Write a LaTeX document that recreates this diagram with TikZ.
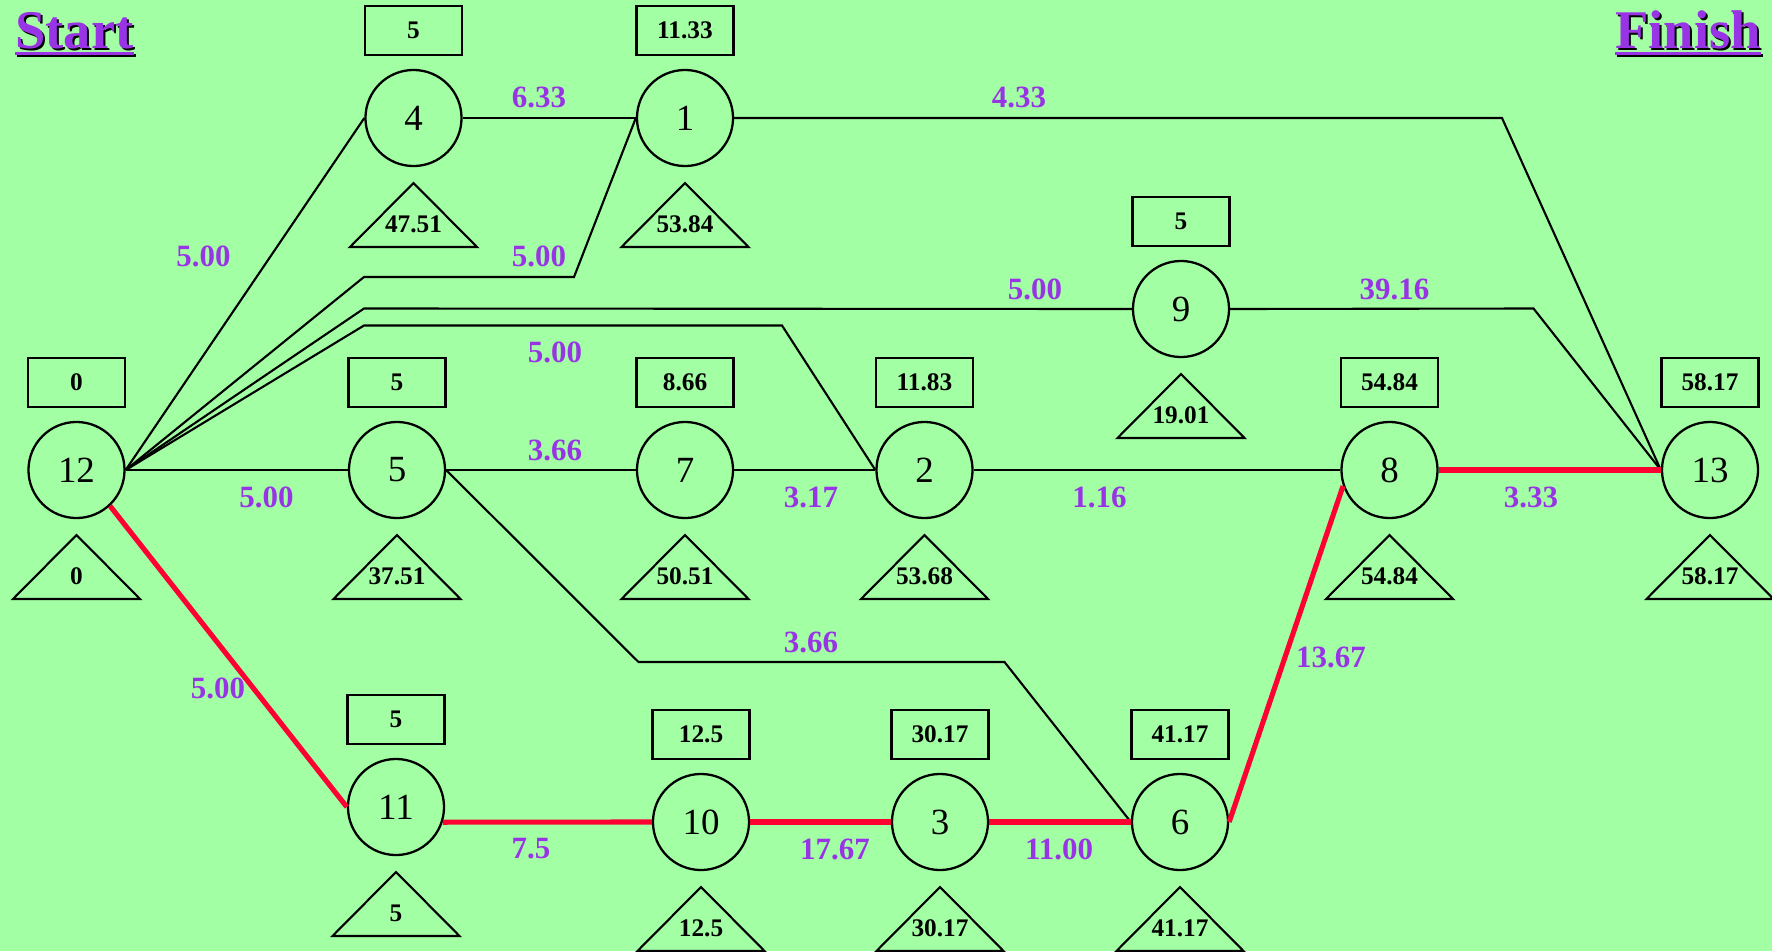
\documentclass[tikz,border=0pt]{standalone}
\usepackage{fontspec}
\setmainfont{Liberation Serif}
\definecolor{bg}{RGB}{163,255,163}
\definecolor{lblpurple}{RGB}{153,51,230}
\definecolor{crit}{RGB}{255,0,51}
\tikzset{
  evt/.style={circle, draw, line width=0.65pt, minimum size=0.96cm, inner sep=0pt,
              font=\fontsize{10.5}{12}\selectfont},
  esbox/.style={draw, line width=0.65pt, minimum width=0.97cm, minimum height=0.49cm,
                inner sep=0pt, font=\bfseries\fontsize{7.2}{8}\selectfont},
  lsnum/.style={inner sep=0pt, font=\bfseries\fontsize{7.2}{8}\selectfont},
  dur/.style={inner sep=0pt, text=lblpurple, font=\bfseries\fontsize{8.8}{10}\selectfont},
  act/.style={line width=0.6pt, black},
  critact/.style={line width=1.45pt, crit},
  titletxt/.style={inner sep=0pt, anchor=base, font=\bfseries\fontsize{15.5}{18}\selectfont}
}
% event: name, x, y, number, early start (box), late start (triangle)
\newcommand\pertevent[6]{%
  \node[evt] (#1) at (#2,#3) {#4};
  \node[esbox] (#1es) at (#2,#3-87.5) {#5};
  \draw[act] (#2,#3+65) -- (#2+63.5,#3+129) -- (#2-63.5,#3+129) -- cycle;
  \node[lsnum] (#1ls) at (#2,#3+106) {#6};
}
\begin{document}
\begin{tikzpicture}[x=0.01cm, y=-0.01cm]
\fill[bg] (0,0) rectangle (1772,951);
\useasboundingbox (0,0) rectangle (1772,951);

% titles with drop shadow
\node[titletxt, text=black] (startsh) at (76.5,50) {Start};
\fill[black] ([yshift=-1.0pt]startsh.base west) rectangle ([yshift=-2.1pt]startsh.base east);
\node[titletxt, text=lblpurple] (start) at (74.5,48) {Start};
\fill[lblpurple] ([yshift=-1.0pt]start.base west) rectangle ([yshift=-2.1pt]start.base east);
\node[titletxt, text=black] (finishsh) at (1690,50) {Finish};
\fill[black] ([yshift=-1.0pt]finishsh.base west) rectangle ([yshift=-2.1pt]finishsh.base east);
\node[titletxt, text=lblpurple] (finish) at (1688,48) {Finish};
\fill[lblpurple] ([yshift=-1.0pt]finish.base west) rectangle ([yshift=-2.1pt]finish.base east);

% events
\pertevent{n12}{76.5}{470}{12}{0}{0}
\pertevent{n4}{413.5}{118}{4}{5}{47.51}
\pertevent{n1}{685}{118}{1}{11.33}{53.84}
\pertevent{n9}{1181}{309}{9}{5}{19.01}
\pertevent{n5}{397}{470}{5}{5}{37.51}
\pertevent{n7}{685}{470}{7}{8.66}{50.51}
\pertevent{n2}{924.5}{470}{2}{11.83}{53.68}
\pertevent{n8}{1389.5}{470}{8}{54.84}{54.84}
\pertevent{n13}{1710}{470}{13}{58.17}{58.17}
\pertevent{n11}{396}{807}{11}{5}{5}
\pertevent{n10}{701}{822}{10}{12.5}{12.5}
\pertevent{n3}{940}{822}{3}{30.17}{30.17}
\pertevent{n6}{1180}{822}{6}{41.17}{41.17}

% bend points
\coordinate (k1a) at (364,277);
\coordinate (k1b) at (574,277);
\coordinate (k9a) at (364,308.5);
\coordinate (k2a) at (364,325.5);
\coordinate (k2b) at (782,325.5);
\coordinate (k13a) at (1502,118);
\coordinate (k13b) at (1533.5,308.5);
\coordinate (k6a) at (638.5,662);
\coordinate (k6b) at (1004.5,662);

% activities
\draw[act] (n12.east) -- (n4.west);
\draw[act] (n12.east) -- (k1a) -- (k1b) -- (n1.west);
\draw[act] (n12.east) -- (k9a) -- (n9.west);
\draw[act] (n12.east) -- (k2a) -- (k2b) -- (n2.west);
\draw[act] (n12.east) -- (n5.west);
\draw[act] (n4.east) -- (n1.west);
\draw[act] (n1.east) -- (k13a) -- (n13.west);
\draw[act] (n9.east) -- (k13b) -- (n13.west);
\draw[act] (n5.east) -- (n7.west);
\draw[act] (n5.east) -- (k6a) -- (k6b) -- (n6.west);
\draw[act] (n7.east) -- (n2.west);
\draw[act] (n2.east) -- (n8.west);

% critical path
\draw[critact] (n12.-47) -- (n11.west);
\draw[critact] (n11.-18) -- (n10.west);
\draw[critact] (n10.east) -- (n3.west);
\draw[critact] (n3.east) -- (n6.west);
\draw[critact] (n6.east) -- (n8.199);
\draw[critact] (n8.east) -- (n13.west);

% durations
\node[dur] (d124) at (203.5,256.5) {5.00};
\node[dur] (d121) at (539,256.5) {5.00};
\node[dur] (d129) at (1035,289) {5.00};
\node[dur] (d122) at (555,352.5) {5.00};
\node[dur] (d125) at (266.5,497) {5.00};
\node[dur] (d1211) at (218,688) {5.00};
\node[dur] (d41) at (539,97) {6.33};
\node[dur] (d113) at (1019,97) {4.33};
\node[dur] (d913) at (1394.5,289) {39.16};
\node[dur] (d57) at (555,450) {3.66};
\node[dur] (d56) at (811,642) {3.66};
\node[dur] (d72) at (811,497) {3.17};
\node[dur] (d28) at (1099.5,497) {1.16};
\node[dur] (d813) at (1531,497) {3.33};
\node[dur] (d1110) at (531,849) {7.5};
\node[dur] (d103) at (835,849) {17.67};
\node[dur] (d36) at (1059,849) {11.00};
\node[dur] (d68) at (1331,657) {13.67};
\end{tikzpicture}
\end{document}
